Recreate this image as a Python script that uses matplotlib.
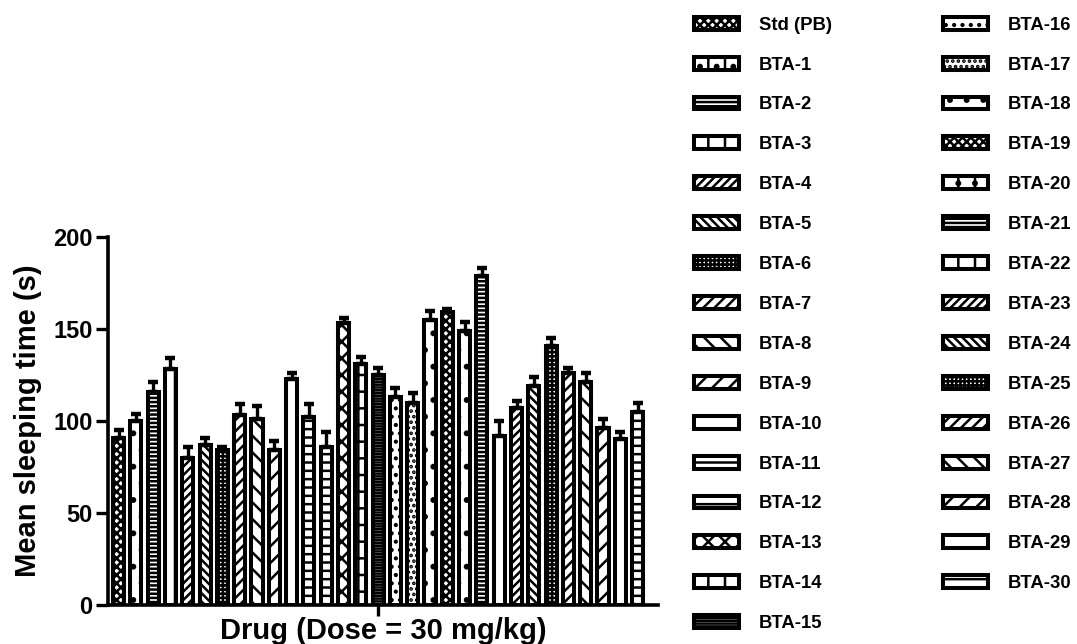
import numpy as np
import matplotlib
matplotlib.use("Agg")
import matplotlib.pyplot as plt

plt.rcParams['font.family'] = ['Liberation Sans', 'DejaVu Sans']
plt.rcParams['font.weight'] = 'bold'
plt.rcParams['hatch.linewidth'] = 1.8

# 数据
labels = ["Std (PB)"] + [f"BTA-{i}" for i in range(1, 31)]
means = [91, 100, 116, 128, 80, 87, 84, 103, 101, 84, 123, 102, 86, 153, 131,
         125, 113, 110, 155, 159, 149, 179, 92, 107, 119, 141, 126, 121, 96, 90, 105]
errors = [4, 4, 5, 6, 6, 4, 2, 6, 7, 5, 3, 7, 8, 3, 4,
          4, 5, 5, 5, 2, 5, 4, 8, 4, 5, 4, 3, 5, 5, 4, 5]
hatches = ["xxxx", "|.", "----", "|", "////", "\\\\\\\\", "++++", "///", "\\\\", "//",
           "", "--", "--", "xx", "-|", "------", "..", "...", ". ", "xxxx",
           "|.", "----", "|", "////", "\\\\\\\\", "++++", "///", "\\\\", "//", "", "--"]

fig = plt.figure(figsize=(10.77, 6.44), dpi=100)
ax = fig.add_axes([0.1003, 0.0606, 0.5107, 0.5714])

x = np.arange(len(means))
bars = ax.bar(x, means, width=0.64, color="white", edgecolor="black", linewidth=2.9)
for b, h in zip(bars, hatches):
    b.set_hatch(h)
ax.errorbar(x, means, yerr=[np.zeros(len(errors)), errors], fmt="none", ecolor="black",
            elinewidth=2.4, capsize=3.5, capthick=3.2)

ax.set_xlim(-0.61, 31.18)
ax.set_ylim(0, 200)
ax.set_yticks([0, 50, 100, 150, 200])
ax.set_xticks([15])
ax.set_xticklabels([""])
ax.spines["top"].set_visible(False)
ax.spines["right"].set_visible(False)
ax.spines["left"].set_linewidth(2.6)
ax.spines["bottom"].set_linewidth(2.6)
ax.tick_params(axis="y", width=2.4, length=9, labelsize=17, pad=2)
ax.tick_params(axis="x", width=2.4, length=8)
for t in ax.get_yticklabels():
    t.set_fontweight("bold")
ax.set_ylabel("Mean sleeping time (s)", fontsize=21, fontweight="bold", labelpad=8)
ax.set_xlabel("Drug (Dose = 30 mg/kg)", fontsize=21, fontweight="bold", labelpad=-3)

fig.legend(bars, labels, ncol=2, loc="upper left", bbox_to_anchor=(0.629, 1.0),
           frameon=False, handlelength=2.43, handleheight=0.7,
           labelspacing=1.24, columnspacing=6.0, handletextpad=1.08,
           prop={"weight": "bold", "size": 13.3})

fig.savefig("out.png", dpi=100)
